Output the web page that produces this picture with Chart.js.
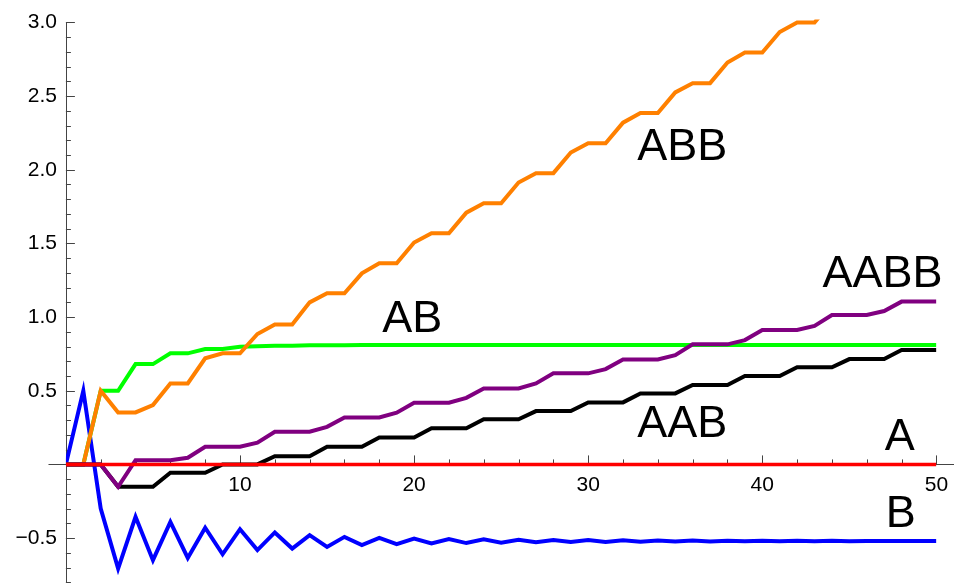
<!DOCTYPE html>
<html>
<head>
<meta charset="utf-8">
<script src="https://cdn.jsdelivr.net/npm/chart.js@4.4.1/dist/chart.umd.min.js"></script>
<style>
  html, body { margin: 0; padding: 0; background: #fff; }
</style>
</head>
<body>
<canvas id="chart" width="954" height="583"></canvas>
<script>
const FONT = '"Liberation Sans", Arial, sans-serif';

// step index n = 0..50
const steps = [0,1,2,3,4,5,6,7,8,9,10,11,12,13,14,15,16,17,18,19,20,21,22,23,24,25,
  26,27,28,29,30,31,32,33,34,35,36,37,38,39,40,41,42,43,44,45,46,47,48,49,50];

const seriesA = [0,0,0,0,0,0,0,0,0,0,0,0,0,0,0,0,0,0,0,0,0,0,0,0,0,0,
  0,0,0,0,0,0,0,0,0,0,0,0,0,0,0,0,0,0,0,0,0,0,0,0,0];

const seriesB = [0, 0.5, -0.30, -0.707, -0.356, -0.65, -0.39, -0.635, -0.43, -0.61, -0.44,
  -0.582, -0.462, -0.571, -0.48, -0.56, -0.492, -0.548, -0.499, -0.541, -0.503,
  -0.537, -0.507, -0.534, -0.509, -0.531, -0.511, -0.529, -0.513, -0.527, -0.514,
  -0.526, -0.515, -0.525, -0.516, -0.524, -0.517, -0.523, -0.518, -0.522, -0.518,
  -0.522, -0.519, -0.521, -0.519, -0.521, -0.52, -0.52, -0.52, -0.52, -0.52];

const seriesAB = [0, 0, 0.5, 0.5, 0.681, 0.681, 0.754, 0.754, 0.783, 0.783, 0.799,
  0.802, 0.805, 0.806, 0.808, 0.808, 0.809, 0.81, 0.81, 0.81, 0.81,
  0.81, 0.81, 0.81, 0.81, 0.81, 0.81, 0.81, 0.81, 0.81, 0.81,
  0.81, 0.81, 0.81, 0.81, 0.81, 0.81, 0.81, 0.81, 0.81, 0.81,
  0.81, 0.81, 0.81, 0.81, 0.81, 0.81, 0.81, 0.81, 0.81, 0.81];

const seriesABB = [0, 0, 0.5, 0.353, 0.353, 0.403, 0.55, 0.55, 0.72, 0.754, 0.754,
  0.885, 0.95, 0.95, 1.1, 1.162, 1.162, 1.297, 1.366, 1.366, 1.506,
  1.569, 1.569, 1.709, 1.773, 1.773, 1.913, 1.977, 1.977, 2.117, 2.18,
  2.18, 2.32, 2.385, 2.385, 2.525, 2.588, 2.588, 2.728, 2.796, 2.796,
  2.935, 3.0, 3.0, 3.14, 3.2, 3.2, 3.34, 3.4, 3.4, 3.54];

const seriesAAB = [0, 0, 0, -0.152, -0.152, -0.152, -0.057, -0.057, -0.057, 0, 0,
  0, 0.056, 0.056, 0.056, 0.12, 0.12, 0.12, 0.183, 0.183, 0.183,
  0.245, 0.245, 0.245, 0.306, 0.306, 0.306, 0.362, 0.362, 0.362, 0.421,
  0.421, 0.421, 0.482, 0.482, 0.482, 0.539, 0.539, 0.539, 0.6, 0.6,
  0.6, 0.659, 0.659, 0.659, 0.715, 0.715, 0.715, 0.776, 0.776, 0.776];

const seriesAABB = [0, 0, 0, -0.152, 0.029, 0.029, 0.029, 0.045, 0.12, 0.12, 0.12,
  0.147, 0.222, 0.222, 0.222, 0.255, 0.319, 0.319, 0.319, 0.351, 0.419,
  0.419, 0.419, 0.452, 0.516, 0.516, 0.516, 0.55, 0.618, 0.618, 0.618,
  0.647, 0.712, 0.712, 0.712, 0.742, 0.815, 0.815, 0.815, 0.844, 0.912,
  0.912, 0.912, 0.94, 1.014, 1.014, 1.014, 1.041, 1.105, 1.105, 1.105];

const xTickValues = [10, 20, 30, 40, 50];
const yTickValues = [-0.5, 0.5, 1.0, 1.5, 2.0, 2.5, 3.0];

// curve labels placed in data coordinates
const curveLabels = [
  { text: 'ABB',  x: 35.4, y: 2.148 },
  { text: 'AB',   x: 19.9, y: 0.98 },
  { text: 'AABB', x: 46.9, y: 1.286 },
  { text: 'AAB',  x: 35.4, y: 0.267 },
  { text: 'A',    x: 47.9, y: 0.179 },
  { text: 'B',    x: 47.95, y: -0.343 }
];

const toPoints = arr => steps.map((n, i) => ({ x: n, y: arr[i] }));

// axes with inward tick marks, Mathematica style
const axesPlugin = {
  id: 'axes',
  beforeDatasetsDraw(chart) {
    const { ctx, scales: { x, y }, chartArea } = chart;
    const x0 = x.getPixelForValue(0), y0 = y.getPixelForValue(0);
    ctx.save();
    ctx.strokeStyle = '#444';
    ctx.lineWidth = 1;
    ctx.beginPath();
    ctx.moveTo(x.getPixelForValue(-1), Math.round(y0) + 0.5);
    ctx.lineTo(chart.width, Math.round(y0) + 0.5);
    ctx.moveTo(Math.round(x0) + 0.5, y.getPixelForValue(3.0));
    ctx.lineTo(Math.round(x0) + 0.5, chartArea.bottom);
    for (let v = 2; v <= 50; v += 2) {
      const px = Math.round(x.getPixelForValue(v)) + 0.5;
      const len = v % 10 === 0 ? 9 : 5;
      ctx.moveTo(px, y0); ctx.lineTo(px, y0 - len);
    }
    for (let k = -8; k <= 30; k++) {
      if (k === 0) continue;
      const py = Math.round(y.getPixelForValue(k / 10)) + 0.5;
      const len = k % 5 === 0 ? 9 : 5;
      ctx.moveTo(x0, py); ctx.lineTo(x0 + len, py);
    }
    ctx.stroke();
    ctx.restore();
  },
  afterDatasetsDraw(chart) {
    const { ctx, scales: { x, y } } = chart;
    ctx.save();
    ctx.fillStyle = '#000';
    ctx.font = '45px ' + FONT;
    ctx.textAlign = 'center';
    ctx.textBaseline = 'middle';
    curveLabels.forEach(l => ctx.fillText(l.text, x.getPixelForValue(l.x), y.getPixelForValue(l.y)));
    ctx.restore();
  }
};

const lineStyle = { pointRadius: 0, tension: 0, borderWidth: 4, fill: false };

new Chart(document.getElementById('chart'), {
  type: 'line',
  data: {
    datasets: [
      { label: 'A',    data: toPoints(seriesA),    borderColor: '#ff0000', order: 0, ...lineStyle, borderWidth: 3.5 },
      { label: 'AABB', data: toPoints(seriesAABB), borderColor: '#800080', order: 1, ...lineStyle },
      { label: 'AAB',  data: toPoints(seriesAAB),  borderColor: '#000000', order: 2, ...lineStyle },
      { label: 'ABB',  data: toPoints(seriesABB),  borderColor: '#ff8000', order: 3, ...lineStyle },
      { label: 'AB',   data: toPoints(seriesAB),   borderColor: '#00ff00', order: 4, ...lineStyle },
      { label: 'B',    data: toPoints(seriesB),    borderColor: '#0000ff', order: 5, ...lineStyle }
    ]
  },
  options: {
    responsive: false,
    animation: false,
    devicePixelRatio: 1,
    layout: { padding: { left: 0, right: 17.6, top: 19.5, bottom: 0 } },
    plugins: { legend: { display: false }, tooltip: { enabled: false } },
    scales: {
      x: {
        type: 'linear', min: 0, max: 50,
        position: { y: 0 },
        grid: { display: false, drawTicks: false },
        border: { display: false },
        afterBuildTicks: s => { s.ticks = xTickValues.map(v => ({ value: v })); },
        afterFit: s => { s.paddingLeft = 0; s.paddingRight = 0; },
        ticks: {
          font: { family: FONT, size: 21 }, color: '#000', padding: 8,
          maxRotation: 0, autoSkip: false,
          callback: v => String(v)
        }
      },
      y: {
        type: 'linear', min: -0.805, max: 3.02,
        position: 'left',
        grid: { display: false, drawTicks: false },
        border: { display: false },
        afterBuildTicks: s => { s.ticks = yTickValues.map(v => ({ value: v })); },
        afterFit: s => { s.width = 65.9; s.paddingTop = 0; s.paddingBottom = 0; },
        ticks: {
          font: { family: FONT, size: 21 }, color: '#000', padding: 9,
          autoSkip: false,
          callback: v => (v < 0 ? '\u2212' : '') + Math.abs(v).toFixed(1)
        }
      }
    }
  },
  plugins: [axesPlugin]
});
</script>
</body>
</html>
